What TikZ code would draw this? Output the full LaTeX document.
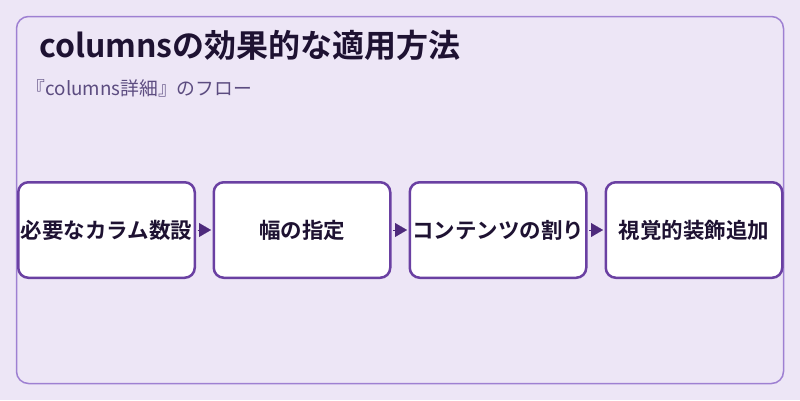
\documentclass[tikz,border=0pt]{standalone}
\usepackage{fontspec}
\setmainfont{Noto Sans CJK JP}
\newfontfamily\jpbold{Noto Sans CJK JP Bold}
\usetikzlibrary{arrows.meta}
\definecolor{bgc}{RGB}{237,230,246}
\definecolor{framec}{RGB}{158,128,210}
\definecolor{boxc}{RGB}{106,64,162}
\definecolor{arrc}{RGB}{78,42,124}
\definecolor{txtc}{RGB}{30,18,50}
\definecolor{subc}{RGB}{92,76,128}
\tikzset{
  stepbox/.style={draw=boxc, line width=2.5pt, fill=white, rounded corners=10pt,
    minimum width=176.5pt, minimum height=95.5pt, inner sep=0pt,
    font=\jpbold\fontsize{21.5}{25}\selectfont, text=txtc},
  flowarrow/.style={draw=arrc, line width=0.1pt, shorten >=1.5pt, shorten <=1.5pt,
    -{Triangle[length=12pt,width=14pt]}, fill=arrc},
  titletext/.style={font=\jpbold\fontsize{32}{38}\selectfont, text=txtc, inner sep=0pt, anchor=base west},
  subtext/.style={font=\fontsize{18.8}{22}\selectfont, text=subc, inner sep=0pt, anchor=base west}
}
\begin{document}
\begin{tikzpicture}[x=1pt,y=-1pt]
\useasboundingbox (0,0) rectangle (800,400);
\fill[bgc] (0,0) rectangle (800,400);
\draw[framec, line width=1.5pt, rounded corners=12pt] (16.5,16.5) rectangle (783.5,383.5);
\node[titletext] (title) at (39,57) {columnsの効果的な適用方法};
\node[subtext] (sub) at (26.5,95.5) {『columns詳細』のフロー};
\node[stepbox] (b1) at (106.5,230) {必要なカラム数設};
\node[stepbox] (b2) at (302,230) {幅の指定};
\node[stepbox] (b3) at (498,230) {コンテンツの割り};
\node[stepbox] (b4) at (694,230) {視覚的装飾追加};
\draw[flowarrow] (b1.east) -- (b2.west);
\draw[flowarrow] (b2.east) -- (b3.west);
\draw[flowarrow] (b3.east) -- (b4.west);
\end{tikzpicture}
\end{document}
